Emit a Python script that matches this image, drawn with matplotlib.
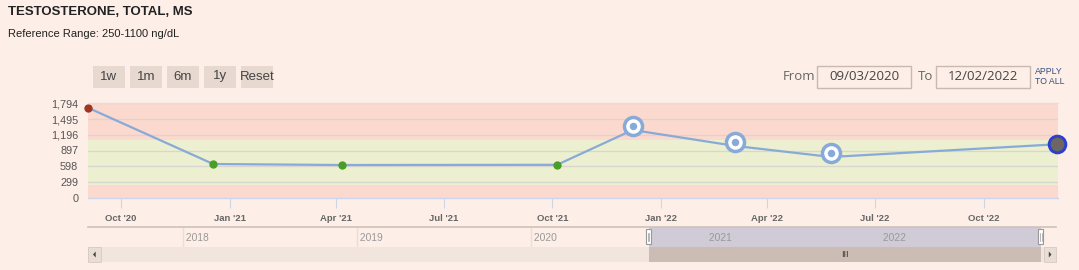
import matplotlib
matplotlib.use("Agg")
import matplotlib.pyplot as plt
import matplotlib.dates as mdates
from matplotlib.patches import Rectangle, Polygon
from matplotlib.transforms import ScaledTranslation
import datetime as dt

# data
dates = ["2020-09-03", "2020-12-18", "2021-04-06", "2021-10-05",
         "2021-12-08", "2022-03-05", "2022-05-25", "2022-12-02"]
values = [1709, 640, 621, 625, 1287, 983, 774, 1015]
status = ["high", "normal", "normal", "normal", "ring", "ring", "ring", "latest"]
ref_low, ref_high = 250, 1100
y_ticks = [0, 299, 598, 897, 1196, 1495, 1794]
x_ticks = ["2020-10-01", "2021-01-01", "2021-04-01", "2021-07-01", "2021-10-01",
           "2022-01-01", "2022-04-01", "2022-07-01", "2022-10-01"]
x_labels = ["Oct '20", "Jan '21", "Apr '21", "Jul '21", "Oct '21",
            "Jan '22", "Apr '22", "Jul '22", "Oct '22"]
view_from, view_to = "2020-09-03", "2022-12-03"
nav_from, nav_to = "2017-06-17", "2023-01-04"
nav_years = [2018, 2019, 2020, 2021, 2022]
buttons = ["1w", "1m", "6m", "1y", "Reset"]

BG = "#fdefe7"
W, H = 1079, 270
plt.rcParams['font.family'] = ['Liberation Sans', 'DejaVu Sans']

fig = plt.figure(figsize=(W / 100, H / 100), dpi=100, facecolor=BG)


def box(x0, y0, x1, y1):
    # pixel box (top-left origin) -> figure fraction rect
    return [x0 / W, 1 - y1 / H, (x1 - x0) / W, (y1 - y0) / H]


def fx(x):
    return x / W


def fy(y):
    return 1 - y / H


def d(s):
    return mdates.date2num(dt.datetime.strptime(s, "%Y-%m-%d"))


# headers
fig.text(fx(8), fy(12), "TESTOSTERONE, TOTAL, MS", fontsize=9.5, fontweight="bold",
         color="#222222", va="center")
fig.text(fx(8), fy(34), "Reference Range: 250-1100 ng/dL", fontsize=8,
         color="#222222", va="center")

# range buttons
bx = [(93, 125), (130, 162), (167, 199), (204, 236), (241, 273)]
for (x0, x1), lab in zip(bx, buttons):
    fig.patches.append(Rectangle((fx(x0), fy(88)), (x1 - x0) / W, 22 / H,
                                 transform=fig.transFigure, facecolor="#e8d9d0",
                                 edgecolor="none"))
    fig.text(fx((x0 + x1) / 2), fy(76.5), lab, fontsize=9.5, color="#444444",
             ha="center", va="center")

# from / to boxes
fig.text(fx(783), fy(76.5), "From", fontsize=9.5, color="#666666", va="center",
         family=["Open Sans", "DejaVu Sans"])
fig.text(fx(918), fy(76.5), "To", fontsize=9.5, color="#666666", va="center",
         family=["Open Sans", "DejaVu Sans"])
for (x0, x1), s in [((817, 911), "09/03/2020"), ((936, 1030), "12/02/2022")]:
    fig.patches.append(Rectangle((fx(x0), fy(87.5)), (x1 - x0) / W, 21.5 / H,
                                 transform=fig.transFigure, facecolor=BG,
                                 edgecolor="#c9b9b1", linewidth=1))
    fig.text(fx((x0 + x1) / 2), fy(76.5), s, fontsize=9.5, color="#444444",
             ha="center", va="center", family=["Open Sans", "DejaVu Sans"])
fig.text(fx(1035), fy(71), "APPLY", fontsize=6.3, color="#34507f", va="center")
fig.text(fx(1035), fy(82), "TO ALL", fontsize=6.3, color="#34507f", va="center")

# main chart
ax = fig.add_axes(box(88, 103.3, 1058, 197.7))
ax.set_facecolor(BG)
xd = [d(s) for s in dates]
ax.set_xlim(d(view_from), d(view_to))
ax.set_ylim(0, y_ticks[-1])
ax.axhspan(ref_high, y_ticks[-1], color="#fcd9cf", zorder=0, lw=0)
ax.axhspan(ref_low, ref_high, color="#ecefd0", zorder=0, lw=0)
ax.axhspan(0, ref_low, color="#fcd9cf", zorder=0, lw=0)
for t in y_ticks[1:]:
    ax.axhline(t, color="#d9d6cf", lw=0.9, zorder=1)

ax.plot(xd, values, color="#88aad6", lw=1.6, zorder=3, solid_capstyle="round")

up = ax.transData + ScaledTranslation(0, 4 / 100, fig.dpi_scale_trans)
for x, v, st in zip(xd, values, status):
    if st == "high":
        ax.plot(x, v, "o", ms=6, color="#a0361f", mec="none", zorder=4, clip_on=False)
    elif st == "normal":
        ax.plot(x, v, "o", ms=6, color="#4a9e28", mec="none", zorder=4)
    elif st == "ring":
        ax.plot(x, v, "o", ms=13, mfc="white", mec="#88aad8", mew=2.5,
                zorder=4, transform=up)
        ax.plot(x, v, "o", ms=5.4, color="#88aad8", mec="none", zorder=5,
                transform=up)
    else:
        ax.plot(x, v, "o", ms=12, mfc="#6d6662", mec="#2b3fd0", mew=2.1,
                zorder=5, clip_on=False)

ax.set_yticks(y_ticks)
ax.set_yticklabels([f"{t:,}" for t in y_ticks], fontsize=7.8, color="#555555")
ax.set_xticks([d(s) for s in x_ticks])
ax.set_xticklabels(x_labels, fontsize=6.8, color="#666666", fontweight="bold")
ax.tick_params(axis="y", length=0, pad=7)
ax.tick_params(axis="x", length=7, color="#ccd6eb", pad=5)
for s in ["top", "right", "left"]:
    ax.spines[s].set_visible(False)
ax.spines["bottom"].set_color("#ccd6eb")
ax.spines["bottom"].set_linewidth(1)
# faint top line
fig.lines.append(plt.Line2D([fx(88), fx(1058)], [fy(103.3), fy(103.3)],
                            transform=fig.transFigure, color="#eadcd4", lw=1))

# navigator
nav = fig.add_axes(box(88, 227.3, 1056, 247.3))
nav.set_facecolor(BG)
nav.set_xlim(d(nav_from), d(nav_to))
nav.set_ylim(0, 1)
for yr in nav_years:
    xx = d(f"{yr}-01-01")
    nav.axvline(xx, color="#eadfd8", lw=1, zorder=1)
    nav.text(xx, 0.45, f" {yr}", fontsize=7.4, color="#999999", va="center",
             ha="left", family=["Liberation Sans Narrow", "Liberation Sans"],
             zorder=3)
nav.axvspan(d(view_from), d(view_to), color="#ccc8d6", alpha=0.9, lw=0, zorder=2)
for xx in (d(view_from), d(view_to)):
    hx = nav.transData.transform((xx, 0))[0]
    fig.patches.append(Rectangle((hx / W - 2.5 / W, fy(244.3)), 5 / W, 15 / H,
                                 transform=fig.transFigure, facecolor="white",
                                 edgecolor="#999999", lw=0.8, zorder=5))
    for off in (-0.8, 0.8):
        fig.lines.append(plt.Line2D([(hx + off) / W] * 2, [fy(241), fy(232.5)],
                                    transform=fig.transFigure, color="#999999",
                                    lw=0.5, zorder=6))
nav.set_xticks([])
nav.set_yticks([])
for s in ["bottom", "right", "left"]:
    nav.spines[s].set_visible(False)
nav.spines["top"].set_color("#cfc2ba")
nav.spines["top"].set_linewidth(1.2)

# scrollbar
sb = fig.add_axes(box(88, 247.3, 1056, 261.7))
sb.set_facecolor("#f2e5dd")
sb.set_xlim(d(nav_from), d(nav_to))
sb.set_ylim(0, 1)
sb.axvspan(d(view_from), d(view_to), color="#cbbdb4", lw=0)
mid = (d(view_from) + d(view_to)) / 2
sb.text(mid, 0.5, "III", fontsize=6.5, color="#333333", ha="center", va="center")
sb.set_xticks([])
sb.set_yticks([])
for s in sb.spines.values():
    s.set_visible(False)
for x0, x1, left in [(88, 101, True), (1044, 1056, False)]:
    fig.patches.append(Rectangle((fx(x0), fy(261.7)), (x1 - x0) / W, 14.4 / H,
                                 transform=fig.transFigure, facecolor="#e9ddd6",
                                 edgecolor="#d6cbc4", lw=0.6, zorder=5))
    cx = (x0 + x1) / 2
    if left:
        tri = [(cx + 1.2, 251.5), (cx + 1.2, 257.5), (cx - 1.5, 254.5)]
    else:
        tri = [(cx - 1.2, 251.5), (cx - 1.2, 257.5), (cx + 1.5, 254.5)]
    fig.patches.append(Polygon([(fx(a), fy(b)) for a, b in tri], closed=True,
                               transform=fig.transFigure, facecolor="#444444",
                               edgecolor="none", zorder=6))

fig.savefig("out.png", dpi=100, facecolor=BG)
